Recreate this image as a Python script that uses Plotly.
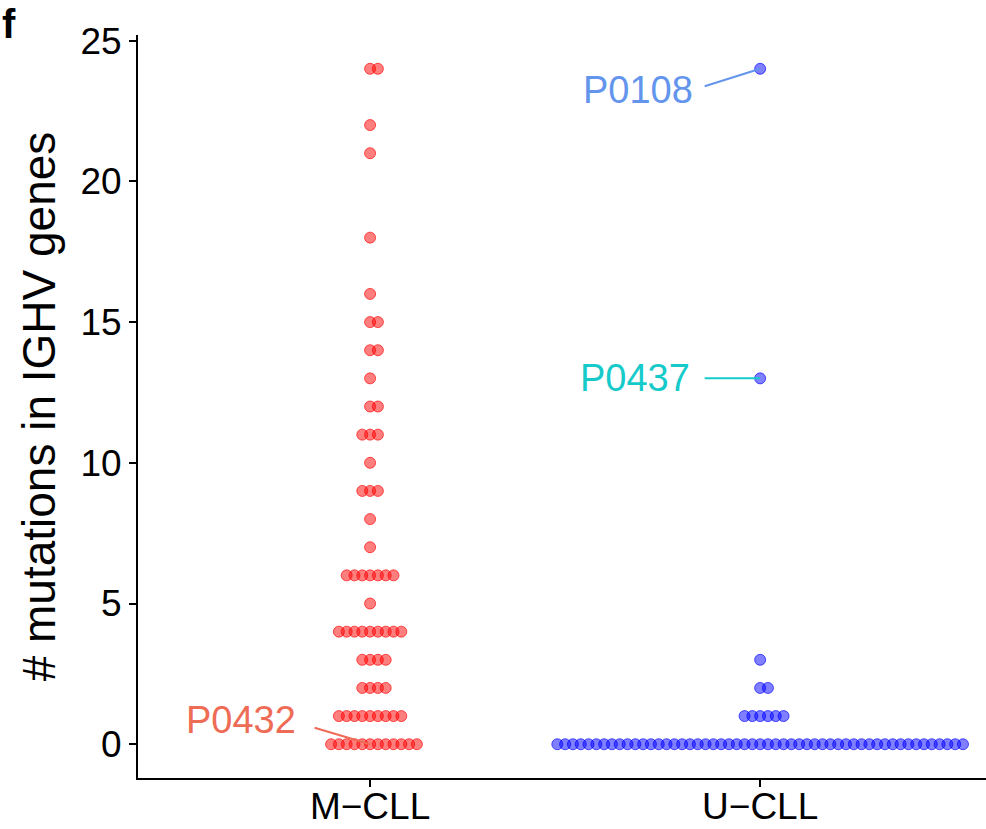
import plotly.graph_objects as go

# ---- data ----
CATEGORIES = ["M−CLL", "U−CLL"]
M_CLL_VALUES = [0, 1, 2, 3, 4, 5, 6, 7, 8, 9, 10, 11, 12, 13, 14, 15, 16, 18, 21, 22, 24]
M_CLL_COUNTS = [12, 9, 4, 4, 9, 1, 7, 1, 1, 3, 1, 3, 2, 1, 2, 2, 1, 1, 1, 1, 2]
U_CLL_VALUES = [0, 1, 2, 3, 13, 24]
U_CLL_COUNTS = [53, 6, 2, 1, 1, 1]
Y_TICKS = [0, 5, 10, 15, 20, 25]
LABELS = [  # (name, category index, value)
    ("P0432", 0, 0),
    ("P0437", 1, 13),
    ("P0108", 1, 24),
]

# ---- styles ----
FONT = "Liberation Sans, Arial, Helvetica, sans-serif"
DX = 0.02          # dot stacking step, in category units
W, H = 986, 829
ML, MT, MB, MR = 138, 35, 51, 0
LABEL_COLORS = {"P0432": "#EE6B55", "P0437": "#17CACA", "P0108": "#6495ED"}
LABEL_POS = {  # (xshift, yshift) of label's right edge, (ax, ay) of connector start
    "P0432": (-72, 24, -57, -17),
    "P0437": (-68, 0, -57, 0),
    "P0108": (-65, -21, -57, 18),
}


def stack(center, values, counts):
    xs, ys = [], []
    for v, n in zip(values, counts):
        base = (n - 1) // 2
        for k in range(n):
            xs.append(center + (k - base) * DX)
            ys.append(v)
    return xs, ys


fig = go.Figure()
mx, my = stack(1, M_CLL_VALUES, M_CLL_COUNTS)
ux, uy = stack(2, U_CLL_VALUES, U_CLL_COUNTS)
fig.add_trace(go.Scatter(
    x=mx, y=my, mode="markers",
    marker=dict(size=11, color="rgba(255,0,0,0.5)", line=dict(color="rgba(255,0,0,0.65)", width=1)),
    showlegend=False, hoverinfo="y"))
fig.add_trace(go.Scatter(
    x=ux, y=uy, mode="markers",
    marker=dict(size=11, color="rgba(0,0,255,0.5)", line=dict(color="rgba(0,0,255,0.65)", width=1)),
    showlegend=False, hoverinfo="y"))

for name, ci, val in LABELS:
    col = LABEL_COLORS[name]
    xs, yshift, ax, ay = LABEL_POS[name]
    px = ci + 1
    fig.add_annotation(x=px, y=val, text=" ", showarrow=True, arrowhead=0,
                       arrowwidth=2, arrowcolor=col, ax=ax, ay=ay,
                       standoff=0, startstandoff=0, font=dict(size=1))
    fig.add_annotation(x=px, y=val, text=name, showarrow=False,
                       xanchor="right", yanchor="middle", xshift=xs, yshift=yshift,
                       font=dict(family=FONT, size=38, color=col))

# panel letter, top-left corner
fig.add_annotation(xref="paper", yref="paper", x=(0 - ML) / (W - ML - MR),
                   y=(H - MB) / (H - MT - MB), xanchor="left", yanchor="top",
                   text="<b>f</b>", showarrow=False,
                   font=dict(family=FONT, size=40, color="black"))

fig.update_layout(
    width=W, height=H,
    margin=dict(l=ML, r=MR, t=MT, b=MB, pad=0),
    plot_bgcolor="white", paper_bgcolor="white",
    font=dict(family=FONT, color="black"),
    xaxis=dict(range=[0.405, 2.579], tickvals=[1, 2], ticktext=CATEGORIES,
               automargin=False, ticklabelstandoff=-12,
               showgrid=False, zeroline=False, showline=True, linecolor="black",
               linewidth=2, ticks="outside", ticklen=7, tickwidth=2, tickcolor="black",
               tickfont=dict(family=FONT, size=37, color="black")),
    yaxis=dict(range=[-1.2, 25.2], tickvals=Y_TICKS, automargin=False,
               showgrid=False, zeroline=False, showline=True, linecolor="black",
               linewidth=2, ticks="outside", ticklen=7, tickwidth=2, tickcolor="black",
               tickfont=dict(family=FONT, size=37, color="black"),
               title=dict(text="# mutations in IGHV genes", standoff=10,
                          font=dict(family=FONT, size=46, color="black"))),
)

fig.write_html("out.html")
